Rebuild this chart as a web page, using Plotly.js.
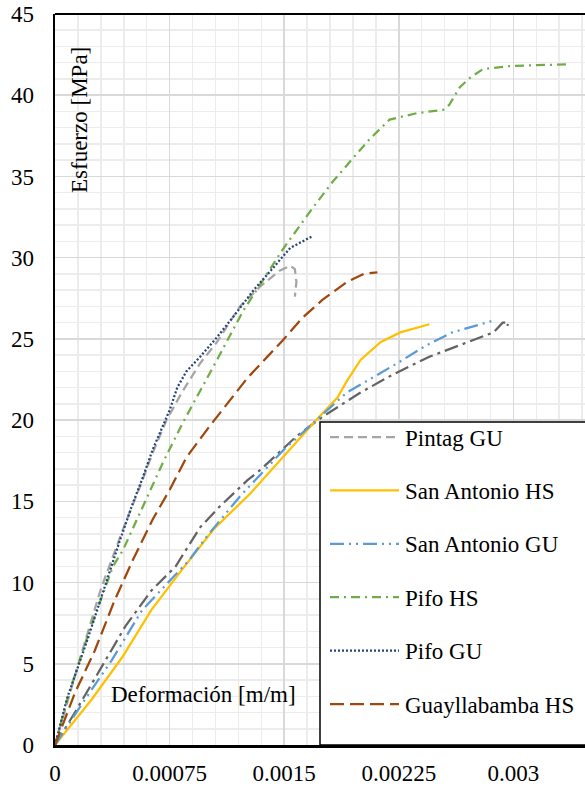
<!DOCTYPE html>
<html>
<head>
<meta charset="utf-8">
<script src="https://cdn.plot.ly/plotly-3.0.1.min.js"></script>
<style>html,body{margin:0;padding:0;background:#fff;}#chart{width:585px;height:786px;}</style>
</head>
<body>
<div id="chart"></div>
<script>
// ---- data (strain [m/m], stress [MPa]) ----
var pintagGU_x = [0, 0.00015, 0.0003, 0.00045, 0.000556, 0.00064, 0.00073, 0.00083, 0.00095, 0.00106, 0.00121, 0.00134, 0.00147, 0.00154, 0.00157, 0.00158, 0.00157];
var pintagGU_y = [0, 4.9, 9.6, 13.4, 15.9, 18.0, 20.0, 21.7, 23.5, 24.8, 27.0, 28.2, 29.2, 29.5, 29.3, 28.5, 27.6];

var sanAntonioHS_x = [0, 0.00024, 0.00044, 0.00063, 0.00084, 0.00104, 0.00128, 0.00147, 0.0016, 0.00171, 0.00185, 0.00191, 0.002, 0.00213, 0.00226, 0.00245];
var sanAntonioHS_y = [0, 2.8, 5.4, 8.3, 10.9, 13.3, 15.5, 17.5, 18.8, 20.0, 21.4, 22.4, 23.7, 24.8, 25.4, 25.9];

var sanAntonioGU_x = [0, 0.000196, 0.00037, 0.00057, 0.00077, 0.00088, 0.00099, 0.00121, 0.0015, 0.00169, 0.00191, 0.00224, 0.00243, 0.0026, 0.00283, 0.00286];
var sanAntonioGU_y = [0, 2.8, 5.2, 8.3, 10.3, 11.4, 12.8, 15.3, 18.2, 19.8, 21.7, 23.5, 24.6, 25.4, 26.0, 26.1];

var pifoHS_x = [0, 0.00008, 0.00022, 0.00038, 0.000445, 0.000556, 0.000635, 0.000707, 0.00084, 0.00097, 0.00106, 0.00123, 0.00136, 0.00149, 0.00169, 0.00182, 0.00193, 0.00206, 0.00219, 0.00237, 0.00254, 0.00258, 0.00265, 0.00272, 0.0028, 0.00298, 0.00335];
var pifoHS_y = [0, 2.8, 6.9, 11.0, 12.0, 14.3, 15.9, 17.4, 19.9, 22.2, 23.7, 26.7, 28.6, 30.5, 33.1, 34.7, 35.9, 37.3, 38.5, 38.9, 39.1, 39.4, 40.5, 41.1, 41.6, 41.8, 41.9];

var pifoGU_x = [0, 0.00008, 0.00022, 0.00038, 0.000425, 0.00051, 0.000576, 0.00064, 0.000707, 0.00075, 0.0008, 0.00086, 0.00095, 0.00106, 0.00117, 0.0013, 0.00143, 0.00154, 0.0016, 0.00166, 0.00168];
var pifoGU_y = [0, 2.9, 6.7, 11.4, 12.6, 14.9, 16.5, 18.2, 19.6, 20.6, 22.0, 23.0, 23.9, 25.1, 26.4, 28.0, 29.4, 30.6, 30.9, 31.2, 31.3];

var guayllabambaHS_x = [0, 0.00013, 0.00026, 0.00039, 0.00051, 0.00064, 0.00075, 0.00086, 0.00101, 0.00115, 0.00126, 0.0014, 0.00149, 0.00162, 0.00175, 0.00191, 0.00202, 0.00211];
var guayllabambaHS_y = [0, 3.2, 5.8, 8.9, 11.4, 13.9, 15.7, 17.7, 19.6, 21.3, 22.6, 24.0, 24.9, 26.3, 27.4, 28.5, 29.0, 29.1];

var pintagHS_x = [0, 0.00013, 0.00028, 0.00046, 0.00063, 0.00079, 0.00095, 0.00108, 0.00126, 0.00134, 0.00158, 0.00175, 0.002, 0.00221, 0.00245, 0.0027, 0.00287, 0.00293, 0.00297, 0.00296];
var pintagHS_y = [0, 2.0, 4.4, 7.3, 9.5, 11.0, 13.4, 14.7, 16.3, 16.9, 19.0, 20.2, 21.7, 22.8, 23.9, 24.8, 25.4, 26.0, 26.0, 25.8];

var xTickVals = [0, 0.00075, 0.0015, 0.00225, 0.003];
var xTickText = ['0', '0.00075', '0.0015', '0.00225', '0.003'];
var yTickVals = [0, 5, 10, 15, 20, 25, 30, 35, 40, 45];

var legendNames = ['Pintag GU', 'San Antonio HS', 'San Antonio GU', 'Pifo HS', 'Pifo GU', 'Guayllabamba HS'];

var serif = 'Liberation Serif, Times New Roman, serif';
var fs = 23;

var styles = {
  'Pintag HS':      {color: '#636363', dash: '14px,5px,3px,5px'},
  'Pintag GU':      {color: '#a5a5a5', dash: '9px,5px'},
  'San Antonio HS': {color: '#ffc000', dash: 'solid'},
  'San Antonio GU': {color: '#5b9bd5', dash: '14px,5px,2px,5px,2px,5px'},
  'Pifo HS':        {color: '#70ad47', dash: '9px,5px,2px,5px'},
  'Pifo GU':        {color: '#264478', dash: '2px,2px'},
  'Guayllabamba HS':{color: '#9e480e', dash: '14px,6px'}
};

function tr(x, y, name) {
  return {
    x: x, y: y, name: name, type: 'scatter', mode: 'lines',
    line: {color: styles[name].color, width: 2.25, dash: styles[name].dash},
    showlegend: false, hoverinfo: 'skip'
  };
}

var data = [
  tr(pintagHS_x, pintagHS_y, 'Pintag HS'),
  tr(pintagGU_x, pintagGU_y, 'Pintag GU'),
  tr(sanAntonioHS_x, sanAntonioHS_y, 'San Antonio HS'),
  tr(sanAntonioGU_x, sanAntonioGU_y, 'San Antonio GU'),
  tr(pifoHS_x, pifoHS_y, 'Pifo HS'),
  tr(pifoGU_x, pifoGU_y, 'Pifo GU'),
  tr(guayllabambaHS_x, guayllabambaHS_y, 'Guayllabamba HS')
];

// plot area in pixels: left 55, top 14, width 530, height 731
function px2x(px) { return (px - 55) / 530; }
function py2y(py) { return (745 - py) / 731; }

var shapes = [
  {type: 'line', xref: 'paper', yref: 'paper', x0: 0, x1: 1, y0: 1, y1: 1,
   line: {color: '#000000', width: 2}},
  {type: 'rect', xref: 'paper', yref: 'paper', x0: px2x(320), x1: px2x(600), y0: 0, y1: py2y(422),
   fillcolor: '#ffffff', line: {color: '#000000', width: 1.5}, layer: 'above'}
];
var annotations = [
  {text: 'Esfuerzo [MPa]', xref: 'paper', yref: 'paper', x: px2x(80), y: py2y(120),
   xanchor: 'center', yanchor: 'middle',
   textangle: -90, showarrow: false, font: {family: serif, size: fs, color: '#000000'}},
  {text: 'Deformación [m/m]', xref: 'paper', yref: 'paper', x: px2x(203), y: py2y(694),
   xanchor: 'center', yanchor: 'middle',
   showarrow: false, font: {family: serif, size: fs, color: '#000000'}}
];
legendNames.forEach(function (n, i) {
  var py = 437 + i * 53.4;
  shapes.push({type: 'line', xref: 'paper', yref: 'paper', x0: px2x(330), x1: px2x(399),
    y0: py2y(py), y1: py2y(py), layer: 'above',
    line: {color: styles[n].color, width: 2.25, dash: styles[n].dash}});
  annotations.push({text: n, xref: 'paper', yref: 'paper', x: px2x(403), y: py2y(py + 1),
    xanchor: 'left', yanchor: 'middle', showarrow: false,
    font: {family: serif, size: fs, color: '#000000'}});
});

var layout = {
  width: 585, height: 786,
  margin: {l: 55, r: 0, t: 14, b: 41, pad: 0},
  paper_bgcolor: '#ffffff', plot_bgcolor: '#ffffff',
  font: {family: serif, size: fs, color: '#000000'},
  showlegend: false,
  xaxis: {
    range: [0, 0.003469], tickmode: 'array', tickvals: xTickVals, ticktext: xTickText,
    showgrid: true, gridcolor: '#d9d9d9', gridwidth: 1.5,
    minor: {dtick: 0.00015, showgrid: true, gridcolor: '#ececec', gridwidth: 1.5},
    showline: true, linecolor: '#000000', linewidth: 2.5,
    ticks: '', zeroline: false, fixedrange: true, ticklabelstandoff: 6,
    tickfont: {family: serif, size: fs, color: '#000000'}
  },
  yaxis: {
    range: [0, 45], tickmode: 'array', tickvals: yTickVals,
    showgrid: true, gridcolor: '#d9d9d9', gridwidth: 1.5,
    minor: {dtick: 1, showgrid: true, gridcolor: '#ececec', gridwidth: 1.5},
    showline: true, linecolor: '#000000', linewidth: 2.5,
    ticks: '', zeroline: false, fixedrange: true, ticklabelstandoff: 14,
    tickfont: {family: serif, size: fs, color: '#000000'}
  },
  shapes: shapes,
  annotations: annotations
};

Plotly.newPlot('chart', data, layout, {displayModeBar: false, staticPlot: true});
</script>
</body>
</html>
